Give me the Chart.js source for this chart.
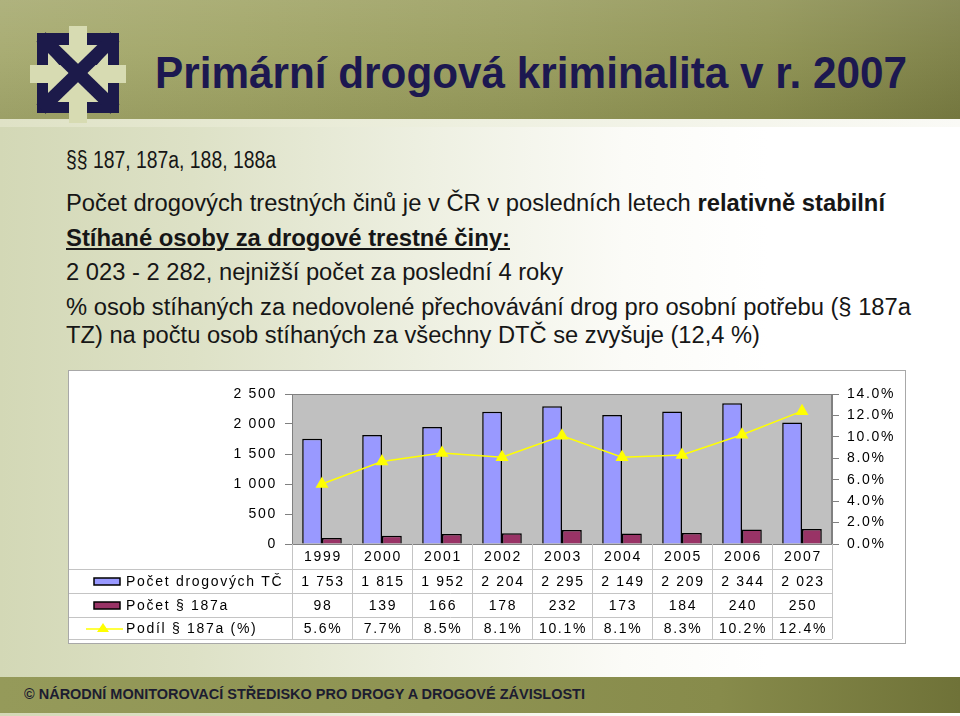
<!DOCTYPE html>
<html>
<head>
<meta charset="utf-8">
<script src="https://cdn.jsdelivr.net/npm/chart.js@4/dist/chart.umd.min.js"></script>
<style>
html,body{margin:0;padding:0;}
body{width:960px;height:716px;position:relative;overflow:hidden;
  background:linear-gradient(90deg,#d3d8b6 0%,#dde1c6 20%,#eef0e2 45%,#fbfbf7 65%,#ffffff 80%);
  font-family:"Liberation Sans Narrow","Arial Narrow","Liberation Sans",Arial,sans-serif;}
#band{position:absolute;left:0;top:0;width:960px;height:119px;
  background:linear-gradient(90deg,#a4a86c 0%,#9fa363 25%,#979b5b 55%,#8c904f 80%,#7a7d42 100%);}
#bandShade{position:absolute;left:0;top:0;width:960px;height:119px;
  background:linear-gradient(180deg,rgba(255,255,255,0.12) 0%,rgba(255,255,255,0.05) 45%,rgba(0,0,0,0.05) 100%);}
#under{position:absolute;left:0;top:119px;width:960px;height:8px;
  background:linear-gradient(90deg,#dfe2c6,#eef0e0 50%,#fafaf6);}
#foot{position:absolute;left:0;top:677px;width:960px;height:36px;
  background:linear-gradient(90deg,#959a5a 0%,#8f9453 40%,#878b4b 75%,#6f7238 100%);}
.fit{position:absolute;white-space:nowrap;transform-origin:0 50%;}
#title{left:155px;top:48px;font-size:45px;line-height:50px;font-weight:bold;color:#1c1850;}
.line{left:66px;font-size:23px;line-height:26px;color:#161616;}
#footTxt{left:24px;top:685px;font-size:15px;line-height:18px;font-weight:bold;color:#1c1c30;}
#box{position:absolute;left:68px;top:370px;width:836px;height:272px;border:1px solid #a8a8a8;background:#fff;}
#c{display:block;}
</style>
</head>
<body>
<div id="band"></div><div id="bandShade"></div><div id="under"></div>
<svg style="position:absolute;left:27px;top:23px" width="102" height="100" viewBox="0 0 102 100">
  <rect x="10" y="10" width="82" height="80" fill="#1c1a4a"/>
  <g fill="#d7dbb2">
    <rect x="42" y="3" width="18" height="97"/>
    <rect x="3" y="42" width="96" height="18"/>
    <polygon points="28,22 74,22 51,41"/>
    <polygon points="28,79 74,79 51,60"/>
    <polygon points="21,29 21,73 40,51"/>
    <polygon points="81,29 81,73 62,51"/>
  </g>
  <g stroke="#1c1a4a" stroke-width="13">
    <line x1="14" y1="14" x2="88" y2="86"/>
    <line x1="88" y1="14" x2="14" y2="86"/>
  </g>
</svg>
<div id="title" class="fit" data-w="752">Primární drogová kriminalita v r. 2007</div>

<div class="fit line" style="top:147px" data-w="210">§§ 187, 187a, 188, 188a</div>
<div class="fit line" style="top:190px" data-w="819">Počet drogových trestných činů je v ČR v posledních letech <b>relativně stabilní</b></div>
<div class="fit line" style="top:225px;font-weight:bold;text-decoration:underline" data-w="444">Stíhané osoby za drogové trestné činy:</div>
<div class="fit line" style="top:259px" data-w="497">2 023 - 2 282, nejnižší počet za poslední 4 roky</div>
<div class="fit line" style="top:294px" data-w="845">% osob stíhaných za nedovolené přechovávání drog pro osobní potřebu (§ 187a</div>
<div class="fit line" style="top:322px" data-w="694">TZ) na počtu osob stíhaných za všechny DTČ se zvyšuje (12,4 %)</div>

<div id="box"><canvas id="c" width="836" height="272"></canvas></div>

<div id="foot"></div>
<div id="footTxt" class="fit" data-w="561">© NÁRODNÍ MONITOROVACÍ STŘEDISKO PRO DROGY A DROGOVÉ ZÁVISLOSTI</div>

<script>
// ---- data ----
const years = ['1999','2000','2001','2002','2003','2004','2005','2006','2007'];
const seriesNames = ['Počet drogových TČ','Počet § 187a','Podíl § 187a (%)'];
const totalCases = [1753,1815,1952,2204,2295,2149,2209,2344,2023];
const cases187a = [98,139,166,178,232,173,184,240,250];
const share187a = [5.6,7.7,8.5,8.1,10.1,8.1,8.3,10.2,12.4];
const leftMax = 2500, leftStep = 500;
const rightMax = 14, rightStep = 2;

// ---- text fitting ----
document.querySelectorAll('.fit').forEach(el=>{
  const w = el.getBoundingClientRect().width;
  const t = parseFloat(el.dataset.w);
  if (w > 0 && t) el.style.transform = 'scaleX(' + (t / w) + ')';
});

const FAM = '"Liberation Sans", Arial, sans-serif';
const SP = '1.7px';
const fmtNum = n => String(n).replace(/\B(?=(\d{3})+(?!\d))/g, ' ');
const fmtPct = v => v.toFixed(1) + '%';
const colors = {blue:'#9999ff', maroon:'#993366', yellow:'#ffff00'};

const plotBg = {
  id:'plotBg',
  beforeDraw(chart){
    const {ctx, chartArea:a} = chart;
    ctx.save();
    ctx.fillStyle = '#c0c0c0';
    ctx.fillRect(a.left, a.top, a.right - a.left, a.bottom - a.top);
    ctx.strokeStyle = '#808080'; ctx.lineWidth = 1;
    ctx.strokeRect(a.left + 0.5, a.top + 0.5, a.right - a.left - 1, a.bottom - a.top);
    ctx.restore();
    ctx.letterSpacing = SP;
  }
};

const dataTable = {
  id:'dataTable',
  afterDraw(chart){
    const {ctx, chartArea:a} = chart;
    const xs = chart.scales.x;
    const n = years.length;
    const cw = (a.right - a.left) / n;
    const rows = [a.bottom, a.bottom + 25, a.bottom + 49, a.bottom + 73, a.bottom + 95];
    ctx.save();
    ctx.letterSpacing = SP;
    ctx.strokeStyle = '#c4c4c4'; ctx.lineWidth = 1;
    ctx.beginPath();
    for (let r = 1; r < rows.length; r++) {
      ctx.moveTo(0, Math.round(rows[r]) + 0.5); ctx.lineTo(a.right, Math.round(rows[r]) + 0.5);
    }
    for (let i = 0; i <= n; i++) {
      const x = Math.round(a.left + i * cw) + 0.5;
      ctx.moveTo(x, rows[0]); ctx.lineTo(x, rows[4]);
    }
    ctx.stroke();
    ctx.fillStyle = '#000';
    ctx.font = '14px ' + FAM;
    ctx.textAlign = 'center'; ctx.textBaseline = 'middle';
    const rowVals = [years, totalCases.map(fmtNum), cases187a.map(String), share187a.map(fmtPct)];
    rowVals.forEach((vals, r) => {
      const cy = (rows[r] + rows[r + 1]) / 2 + 1;
      vals.forEach((v, i) => ctx.fillText(v, xs.getPixelForValue(i) + 1, cy));
    });
    // legend keys
    ctx.textAlign = 'left';
    for (let r = 1; r <= 3; r++) {
      const cy = (rows[r] + rows[r + 1]) / 2;
      if (r === 1 || r === 2) {
        ctx.fillStyle = r === 1 ? colors.blue : colors.maroon;
        ctx.fillRect(25, cy - 3, 26, 7);
        ctx.strokeStyle = '#000'; ctx.lineWidth = 1.5;
        ctx.strokeRect(25, cy - 3, 26, 7);
      } else {
        ctx.strokeStyle = colors.yellow; ctx.lineWidth = 1.5;
        ctx.beginPath(); ctx.moveTo(17, cy + 1); ctx.lineTo(54, cy + 1); ctx.stroke();
        ctx.fillStyle = colors.yellow;
        ctx.beginPath(); ctx.moveTo(34, cy - 5); ctx.lineTo(40, cy + 4); ctx.lineTo(28, cy + 4); ctx.closePath(); ctx.fill();
      }
      ctx.fillStyle = '#000';
      ctx.fillText(seriesNames[r - 1], 57, cy + 1);
    }
    ctx.restore();
  }
};

new Chart(document.getElementById('c'), {
  type:'bar',
  data:{
    labels: years,
    datasets:[
      {type:'line', label:seriesNames[2], data:share187a, yAxisID:'y2', order:0,
       borderColor:colors.yellow, borderWidth:1.5, pointStyle:'triangle', pointRadius:6,
       pointBackgroundColor:colors.yellow, pointBorderColor:colors.yellow, tension:0},
      {label:seriesNames[0], data:totalCases, yAxisID:'y', order:1,
       backgroundColor:colors.blue, borderColor:'#000', borderWidth:1.5,
       categoryPercentage:0.66, barPercentage:1.0},
      {label:seriesNames[1], data:cases187a, yAxisID:'y', order:1,
       backgroundColor:colors.maroon, borderColor:'#000', borderWidth:1.5,
       categoryPercentage:0.66, barPercentage:1.0}
    ]
  },
  options:{
    responsive:false, animation:false, devicePixelRatio:1,
    layout:{padding:{top:23, bottom:99, left:0, right:0}},
    plugins:{legend:{display:false}, tooltip:{enabled:false}},
    scales:{
      x:{display:false, offset:true, grid:{display:false}},
      y:{position:'left', min:0, max:leftMax,
         ticks:{stepSize:leftStep, callback:v=>fmtNum(v), color:'#000', font:{size:14, family:FAM}, padding:8},
         grid:{drawOnChartArea:false, drawTicks:true, tickLength:7, color:'#808080'},
         border:{color:'#808080'},
         afterFit(s){ s.width = 223; }},
      y2:{position:'right', min:0, max:rightMax,
         ticks:{stepSize:rightStep, callback:v=>fmtPct(v), color:'#000', font:{size:14, family:FAM}, padding:8},
         grid:{drawOnChartArea:false, drawTicks:true, tickLength:7, color:'#808080'},
         border:{color:'#808080'},
         afterFit(s){ s.width = 73; }}
    }
  },
  plugins:[plotBg, dataTable]
});
</script>
</body>
</html>
